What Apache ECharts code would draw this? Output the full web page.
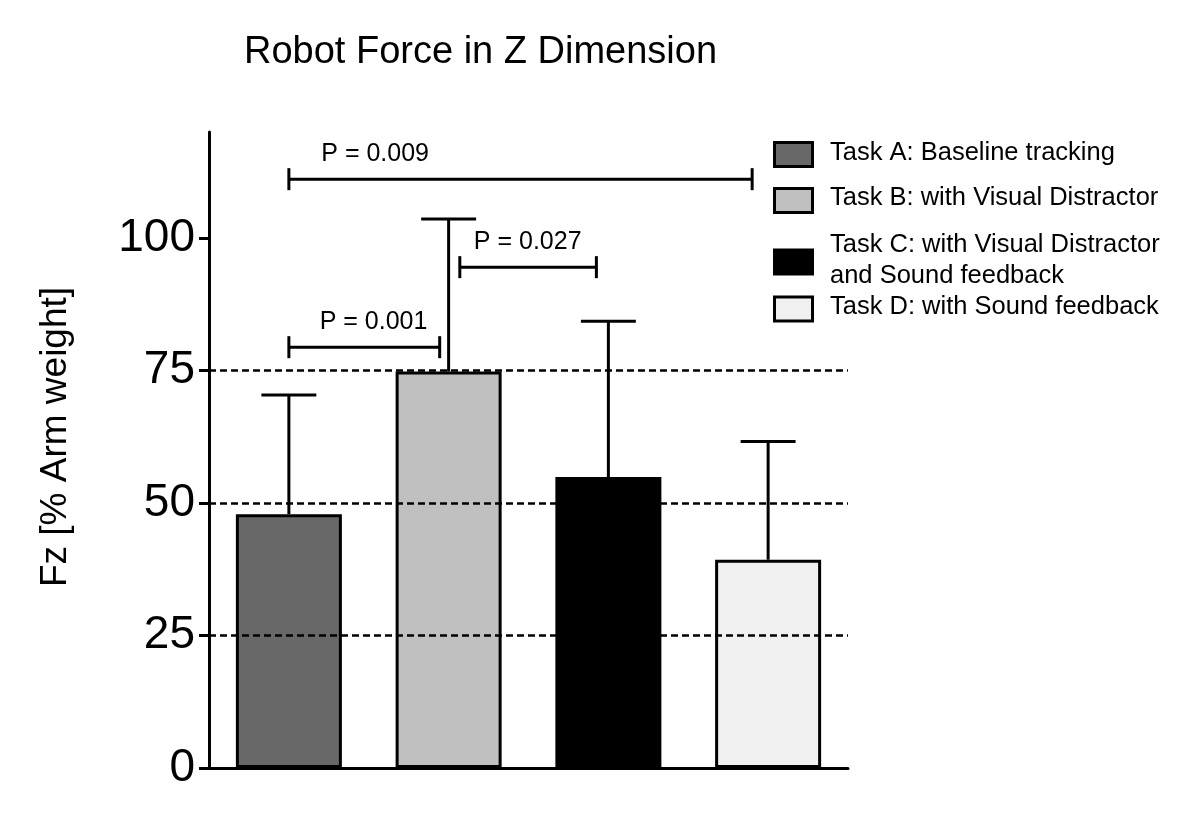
<!DOCTYPE html>
<html>
<head>
<meta charset="utf-8">
<script src="https://cdn.jsdelivr.net/npm/echarts@6/dist/echarts.min.js"></script>
<style>html,body{margin:0;padding:0;background:#fff}#c{width:1200px;height:818px}</style>
</head>
<body>
<div id="c"></div>
<script>
// ---- data ----
const categories = ['Task A', 'Task B', 'Task C', 'Task D'];
const legendLabels = [
  'Task A: Baseline tracking',
  'Task B: with Visual Distractor',
  'Task C: with Visual Distractor\nand Sound feedback',
  'Task D: with Sound feedback'
];
const means = [47.9, 74.8, 54.9, 39.3];
const upperErr = [70.4, 103.6, 84.3, 61.6];
const yTicks = [0, 25, 50, 75, 100];
const refLines = [25, 50, 75];
// significance brackets: [from (category units), to, height, label x]
const brackets = [[0, 2.9, 111.1, 0.54], [1.07, 1.925, 94.5, 1.495], [0, 0.944, 79.4, 0.53]];
const bracketLabels = ['P = 0.009', 'P = 0.027', 'P = 0.001'];
const barColors = ['#686868', '#c0c0c0', '#000000', '#f0f0f0'];

const FONT = "'Liberation Sans', Arial, Helvetica, sans-serif";
const chart = echarts.init(document.getElementById('c'));

// legend built as graphics
const legendBoxY = [153, 199, 260.5, 307.5];
const legendTextY = [153, 198, 260, 307];
const legendGraphics = [];
legendLabels.forEach((lab, i) => {
  legendGraphics.push({
    type: 'rect', left: 773, top: legendBoxY[i] - 12,
    shape: { width: 38, height: 24 },
    style: { fill: barColors[i], stroke: '#000', lineWidth: 3 }
  });
  legendGraphics.push({
    type: 'text', x: 830, y: legendTextY[i],
    style: { text: lab, font: '25.5px ' + FONT, fill: '#000', textVerticalAlign: 'middle', textAlign: 'left', lineHeight: 31 }
  });
});

chart.setOption({
  animation: false,
  backgroundColor: '#fff',
  title: {
    text: 'Robot Force in Z Dimension',
    left: 239, top: 29,
    textStyle: { fontFamily: FONT, fontSize: 38, fontWeight: 'normal', color: '#000' }
  },
  grid: { left: 209, right: 352, top: 132, bottom: 50 },
  xAxis: [{
    type: 'category', data: categories,
    axisLine: { lineStyle: { color: '#000', width: 3 } },
    axisTick: { alignWithLabel: true, length: 10, lineStyle: { color: '#000', width: 3 } },
    axisLabel: { show: false },
    splitLine: { show: false }
  }, {
    type: 'value', min: -0.5, max: 3.5, show: false
  }],
  yAxis: {
    type: 'value', min: 0, max: 120, interval: 25,
    name: 'Fz [% Arm weight]', nameLocation: 'middle', nameGap: 135, nameRotate: 90,
    nameTextStyle: { fontFamily: FONT, fontSize: 37, color: '#000', padding: [0, 0, 0, 26] },
    axisLine: { show: true, onZero: false, lineStyle: { color: '#000', width: 3 } },
    axisTick: { show: true, length: 10, customValues: yTicks, lineStyle: { color: '#000', width: 3 } },
    axisLabel: { customValues: yTicks, margin: 14, fontFamily: FONT, fontSize: 46, color: '#000' },
    splitLine: { show: false }
  },
  series: [
    {
      type: 'line', data: [], z: 1, silent: true,
      markLine: {
        silent: true, symbol: 'none', label: { show: false },
        lineStyle: { color: '#000', type: [7, 4], width: 2.5 },
        data: refLines.map(v => ({ yAxis: v }))
      }
    },
    {
      type: 'bar', z: 2, barWidth: 106,
      data: means.map((v, i) => ({ value: v, itemStyle: { color: barColors[i] } })),
      itemStyle: { borderColor: '#000', borderWidth: 3 }
    },
    {
      type: 'custom', z: 3, silent: true,
      data: means.map((m, i) => [i, m, upperErr[i]]),
      renderItem: function (params, api) {
        const p0 = api.coord([api.value(0), api.value(1)]);
        const p1 = api.coord([api.value(0), api.value(2)]);
        const hw = api.size([1, 0])[0] * 0.172;
        const st = { stroke: '#000', lineWidth: 3 };
        return { type: 'group', children: [
          { type: 'line', shape: { x1: p0[0], y1: p0[1], x2: p1[0], y2: p1[1] }, style: st },
          { type: 'line', shape: { x1: p1[0] - hw, y1: p1[1], x2: p1[0] + hw, y2: p1[1] }, style: st }
        ]};
      }
    },
    {
      type: 'custom', z: 3, silent: true, xAxisIndex: 1,
      data: brackets,
      renderItem: function (params, api) {
        const a = api.coord([api.value(0), api.value(2)]);
        const b = api.coord([api.value(1), api.value(2)]);
        const t = api.coord([api.value(3), api.value(2)]);
        const st = { stroke: '#000', lineWidth: 3 };
        return { type: 'group', children: [
          { type: 'line', shape: { x1: a[0], y1: a[1], x2: b[0], y2: b[1] }, style: st },
          { type: 'line', shape: { x1: a[0], y1: a[1] - 11, x2: a[0], y2: a[1] + 11 }, style: st },
          { type: 'line', shape: { x1: b[0], y1: b[1] - 11, x2: b[0], y2: b[1] + 11 }, style: st },
          { type: 'text', x: t[0], y: t[1] - 25, style: { text: bracketLabels[params.dataIndex], font: '25px ' + FONT, fill: '#000', textAlign: 'center', textVerticalAlign: 'middle' } }
        ]};
      }
    }
  ],
  graphic: legendGraphics
});
</script>
</body>
</html>
